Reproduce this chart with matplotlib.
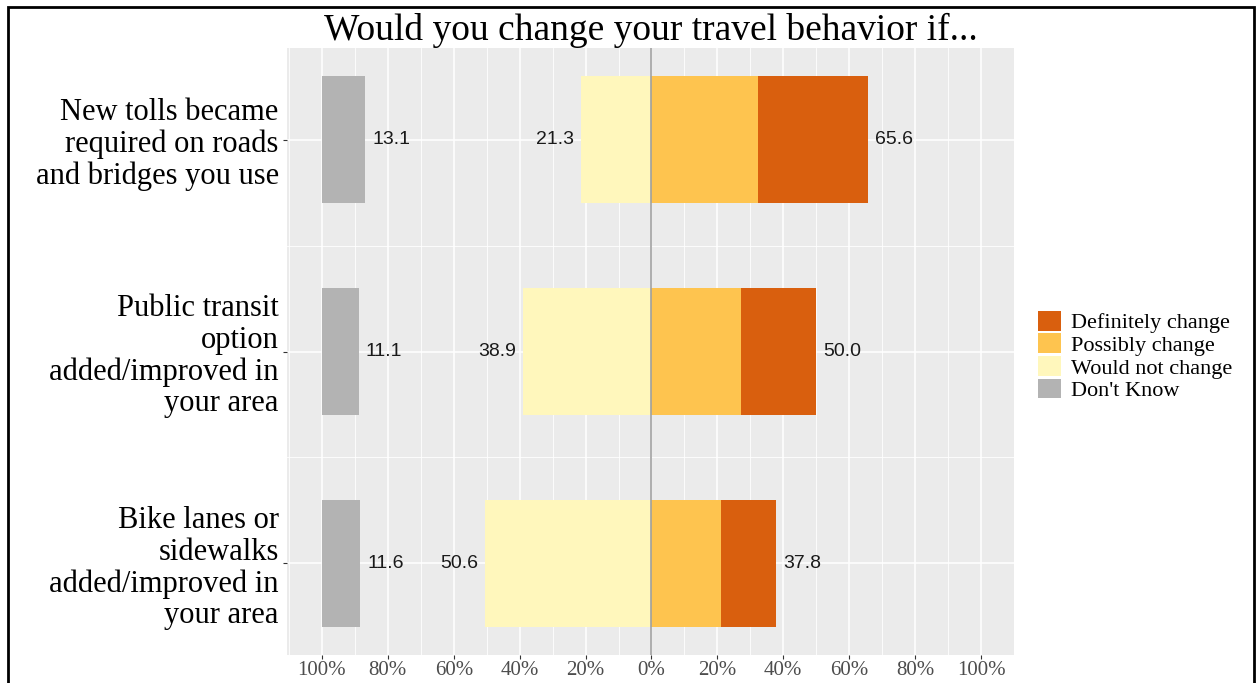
import numpy as np
import matplotlib.pyplot as plt
import matplotlib.patches as mpatches

# data
questions = ['New tolls became\nrequired on roads\nand bridges you use',
             'Public transit\noption\nadded/improved in\nyour area',
             'Bike lanes or\nsidewalks\nadded/improved in\nyour area']
definitely = [33.3, 22.9, 16.6]
possibly = [32.3, 27.1, 21.2]
would_not = [21.3, 38.9, 50.6]
dont_know = [13.1, 11.1, 11.6]
xticks = np.arange(-100, 101, 20)
xticklabels = [f'{abs(t)}%' for t in xticks]
legend_labels = ['Definitely change', 'Possibly change', 'Would not change', "Don't Know"]
colors = ['#D95F0E', '#FEC44F', '#FFF7BC', '#B3B3B3']

serif = 'Liberation Serif'
sans = 'Liberation Sans'

fig = plt.figure(figsize=(12.59, 6.83), dpi=100)
ax = fig.add_axes([287/1259, 28/683, 727/1259, 607/683])
ax.set_facecolor('#EBEBEB')

y = np.array([3, 2, 1])
h = 0.6
possibly = np.array(possibly)
definitely = np.array(definitely)
ax.barh(y, possibly, height=h, color=colors[1], zorder=2)
ax.barh(y, definitely, left=possibly, height=h, color=colors[0], zorder=2)
ax.barh(y, -np.array(would_not), height=h, color=colors[2], zorder=2)
ax.barh(y, dont_know, left=-100, height=h, color=colors[3], zorder=2)
ax.axvline(0, color='#A0A0A0', lw=1.2, zorder=3)

off = 2.1
for i in range(3):
    ax.text(-100 + dont_know[i] + off, y[i], f'{dont_know[i]:.1f}', ha='left', va='center',
            fontsize=14, family=sans, color='#1A1A1A', zorder=4)
    ax.text(-would_not[i] - off, y[i], f'{would_not[i]:.1f}', ha='right', va='center',
            fontsize=14, family=sans, color='#1A1A1A', zorder=4)
    tot = possibly[i] + definitely[i]
    ax.text(tot + off, y[i], f'{tot:.1f}', ha='left', va='center',
            fontsize=14, family=sans, color='#1A1A1A', zorder=4)

ax.set_xlim(-110.6, 109.9)
ax.set_ylim(0.568, 3.432)
ax.set_xticks(xticks)
ax.set_xticklabels(xticklabels, family=serif, fontsize=15, color='#4D4D4D')
ax.set_xticks(np.arange(-110, 111, 20), minor=True)
ax.set_yticks(y)
ax.set_yticklabels(questions, family=serif, fontsize=22, color='black', linespacing=1.11)
ax.set_yticks([1.5, 2.5], minor=True)
ax.grid(which='major', color='white', lw=1.1, zorder=0)
ax.grid(which='minor', color='white', lw=0.6, zorder=0)
ax.set_axisbelow(True)
ax.tick_params(which='major', length=3, color='#333333', pad=3)
ax.tick_params(axis='x', pad=1)
ax.tick_params(which='minor', length=0)
for s in ax.spines.values():
    s.set_visible(False)

ax.set_title('Would you change your travel behavior if...', family=serif, fontsize=27, pad=0)

handles = [mpatches.Patch(facecolor=c, edgecolor='none') for c in colors]
fig.legend(handles, legend_labels, loc='center left', bbox_to_anchor=(1038/1259, 1 - 356/683),
           frameon=False, prop={'family': serif, 'size': 16}, handlelength=1.05, handleheight=1.0,
           labelspacing=0.0, handletextpad=0.45, borderaxespad=0, borderpad=0)

border = mpatches.Rectangle((8/1259, -0.05), 1246/1259, 1 - 7/683 + 0.05, transform=fig.transFigure,
                            fill=False, edgecolor='black', lw=2, clip_on=False)
fig.patches.append(border)

fig.savefig('out.png', dpi=100)
